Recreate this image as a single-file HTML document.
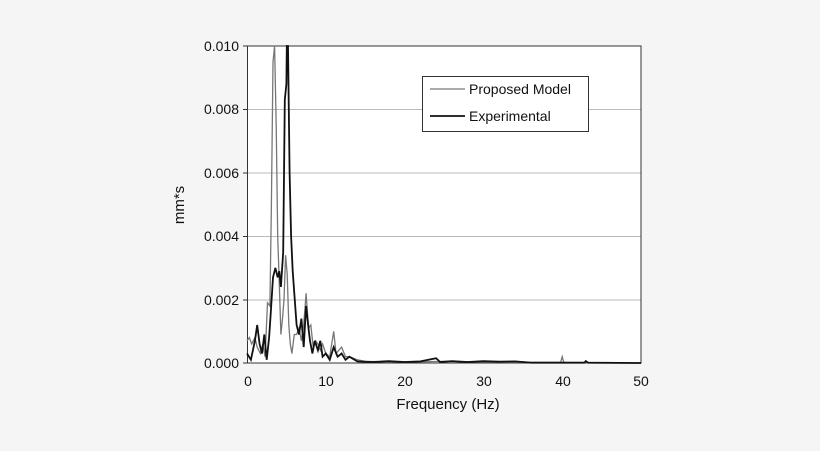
<!DOCTYPE html>
<html><head><meta charset="utf-8"><style>
html,body{margin:0;padding:0;background:#f5f5f5;width:820px;height:451px;overflow:hidden}
svg{display:block}
text{font-family:"Liberation Sans",Arial,sans-serif;fill:#111}
</style></head><body>
<svg width="820" height="451" viewBox="0 0 820 451">
<rect x="0" y="0" width="820" height="451" fill="#f5f5f5"/>
<rect x="247" y="46" width="394" height="317" fill="#fff"/>
<g stroke="#bbb" stroke-width="1">
<line x1="247" x2="641" y1="109.5" y2="109.5"/>
<line x1="247" x2="641" y1="173" y2="173"/>
<line x1="247" x2="641" y1="236.5" y2="236.5"/>
<line x1="247" x2="641" y1="300" y2="300"/>
</g>
<rect x="247.5" y="46" width="393.5" height="317" fill="none" stroke="#333" stroke-width="1"/>
<g stroke="#333" stroke-width="1">
<line x1="243" x2="247" y1="46" y2="46"/><line x1="243" x2="247" y1="109.5" y2="109.5"/>
<line x1="243" x2="247" y1="173" y2="173"/><line x1="243" x2="247" y1="236.5" y2="236.5"/>
<line x1="243" x2="247" y1="300" y2="300"/><line x1="243" x2="247" y1="363" y2="363"/>
</g>
<g font-size="14" text-anchor="end">
<text x="239" y="51">0.010</text><text x="239" y="114">0.008</text><text x="239" y="178">0.006</text>
<text x="239" y="241">0.004</text><text x="239" y="305">0.002</text><text x="239" y="368">0.000</text>
</g>
<g font-size="14" text-anchor="middle">
<text x="248" y="386">0</text><text x="326" y="386">10</text><text x="405" y="386">20</text>
<text x="484" y="386">30</text><text x="563" y="386">40</text><text x="641" y="386">50</text>
</g>
<text x="448" y="409" font-size="15" text-anchor="middle">Frequency (Hz)</text>
<text transform="translate(184,205) rotate(-90)" font-size="15" text-anchor="middle">mm*s</text>
<polyline id="pm" fill="none" stroke="#777" stroke-width="1.3"/>
<polyline id="ex" fill="none" stroke="#111" stroke-width="1.8"/>
<rect x="422.5" y="76.5" width="166" height="55" fill="#fff" stroke="#333" stroke-width="1"/>
<line x1="430" x2="465" y1="89" y2="89" stroke="#777" stroke-width="1.3"/>
<line x1="430" x2="465" y1="116" y2="116" stroke="#111" stroke-width="1.8"/>
<text x="469" y="94" font-size="14">Proposed Model</text>
<text x="469" y="121" font-size="14">Experimental</text>
</svg>
<script>
function pts(d){return d.map(p=>{let x=247+p[0]*7.88,y=363-Math.min(p[1],0.01)*31700;return x.toFixed(1)+","+y.toFixed(1)}).join(" ");}
var pm=[[0,.0007],[.3,.0008],[.6,.0006],[1,.0008],[1.3,.0005],[1.7,.0003],[2,.0006],[2.3,.0002],[2.6,.0019],[2.9,.0018],[3.1,.005],[3.3,.0095],[3.5,.01],[3.7,.0075],[3.9,.004],[4.1,.0025],[4.3,.0009],[4.5,.0014],[4.7,.002],[4.9,.0034],[5.1,.0028],[5.3,.0012],[5.5,.0006],[5.7,.0003],[6,.0009],[6.3,.0009],[6.6,.0011],[6.9,.0007],[7.2,.0012],[7.5,.0022],[7.8,.0011],[8.1,.0012],[8.4,.0005],[8.7,.0007],[9,.0006],[9.3,.0004],[9.6,.0006],[10,.0003],[10.5,.0002],[11,.001],[11.3,.0003],[12,.0005],[12.5,.0002],[13,.0002],[14,.0001],[15,.00005],[20,.00003],[25,.00005],[30,.00003],[35,.00002],[39.8,.00002],[40,.0002],[40.2,.00002],[45,.00001],[50,0]];
var ex=[[0,.0003],[.5,.0001],[1,.0007],[1.3,.0012],[1.6,.0006],[1.9,.0003],[2.2,.0009],[2.5,.0001],[2.8,.0008],[3,.0015],[3.3,.0027],[3.6,.003],[3.9,.0027],[4.1,.0029],[4.3,.0024],[4.6,.0035],[4.8,.0083],[5,.0088],[5.05,.0102],[5.2,.0102],[5.4,.006],[5.6,.004],[5.8,.0029],[6,.0022],[6.3,.0012],[6.6,.0009],[6.9,.0014],[7.2,.0005],[7.5,.0018],[7.8,.0011],[8,.0007],[8.3,.0003],[8.6,.0007],[9,.0004],[9.3,.0007],[9.6,.0002],[10,.0003],[10.5,.0001],[11,.0005],[11.5,.0002],[12,.0003],[12.5,.0001],[13,.0002],[14,.00005],[16,.00003],[18,.00006],[20,.00003],[22,.00005],[24,.00015],[24.5,.00003],[26,.00006],[28,.00003],[30,.00006],[32,.00004],[34,.00005],[36,.00001],[42.8,.00001],[43,.00006],[43.3,.00001],[50,0]];
document.getElementById("pm").setAttribute("points",pts(pm));
document.getElementById("ex").setAttribute("points",pts(ex));
</script>
</body></html>
